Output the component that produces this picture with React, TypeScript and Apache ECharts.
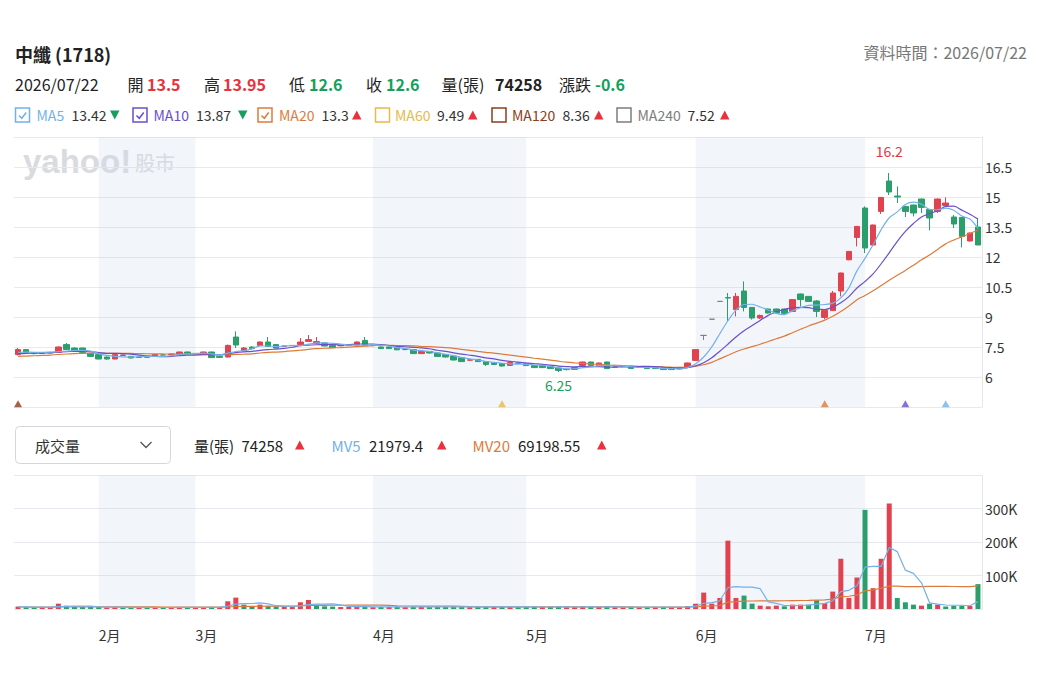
import React, { useEffect, useRef } from "react";
import * as echarts from "echarts";

// ---------- DATA ----------
const tradingDays: [string, number[]][] = [
  ["2026-01", [19, 20, 21, 22, 23, 26, 27, 28, 29, 30]],
  ["2026-02", [2, 3, 4, 5, 6, 9, 10, 11, 23, 24, 25, 26]],
  ["2026-03", [2, 3, 4, 5, 6, 9, 10, 11, 12, 13, 16, 17, 18, 19, 20, 23, 24, 25, 26, 27, 30, 31]],
  ["2026-04", [1, 7, 8, 9, 10, 13, 14, 15, 16, 17, 20, 21, 22, 23, 24, 27, 28, 29, 30]],
  ["2026-05", [1, 4, 5, 6, 7, 8, 11, 12, 13, 14, 15, 18, 19, 20, 21, 22, 25, 26, 27, 28, 29]],
  ["2026-06", [1, 2, 3, 4, 5, 8, 9, 10, 11, 12, 15, 16, 17, 18, 22, 23, 24, 25, 26, 29, 30]],
  ["2026-07", [1, 2, 3, 6, 7, 8, 9, 13, 14, 15, 16, 17, 20, 21, 22]],
];
const shadedMonths = ["2026-02", "2026-04", "2026-06"];

const opens = [
  7.12, 7.37, 7.2, 7.18, 7.2, 7.23, 7.62, 7.45, 7.45, 7.17,
  7.12, 7.0, 6.9, 7.08, 7.03, 6.98, 7.0, 7.03, 7.1, 7.13,
  7.12, 7.25, 7.18, 7.12, 7.25, 7.03, 7.0, 8.0, 7.3, 7.5,
  7.57, 7.75, 7.62, 7.53, 7.57, 7.62, 7.78, 7.68, 7.7, 7.58,
  7.56, 7.58, 7.6, 7.83, 7.58, 7.5, 7.5, 7.5, 7.38, 7.37,
  7.17, 7.28, 7.2, 7.12, 7.05, 6.97, 6.84, 6.88, 6.77, 6.7,
  6.67, 6.58, 6.7, 6.67, 6.58, 6.58, 6.53, 6.45, 6.38, 6.38,
  6.58, 6.75, 6.58, 6.75, 6.5, 6.55, 6.55, 6.48, 6.5, 6.5,
  6.45, 6.45, 6.4, 6.5, 6.83, 8.08, 8.89, 9.78, 9.97, 9.37,
  10.3, 9.48, 8.95, 9.4, 9.4, 9.4, 9.28, 10.15, 10.03, 9.8,
  8.98, 9.32, 10.3, 11.86, 12.98, 14.45, 12.6, 14.28, 15.8, 15.05,
  14.53, 14.6, 14.9, 14.37, 14.28, 14.58, 14.0, 13.98, 12.8, 13.5,
];
const closes = [
  7.37, 7.23, 7.17, 7.2, 7.23, 7.5, 7.37, 7.33, 7.23, 7.03,
  6.9, 6.9, 7.12, 7.1, 6.95, 7.0, 6.99, 7.12, 7.1, 7.15,
  7.25, 7.15, 7.17, 7.25, 6.97, 6.98, 7.58, 7.6, 7.45, 7.42,
  7.75, 7.53, 7.45, 7.55, 7.58, 7.75, 7.87, 7.77, 7.55, 7.47,
  7.58, 7.62, 7.75, 7.57, 7.57, 7.42, 7.42, 7.36, 7.37, 7.17,
  7.28, 7.2, 7.03, 7.0, 6.85, 6.77, 6.86, 6.77, 6.63, 6.63,
  6.55, 6.72, 6.69, 6.57, 6.47, 6.47, 6.42, 6.33, 6.37, 6.47,
  6.75, 6.58, 6.7, 6.42, 6.49, 6.54, 6.43, 6.5, 6.42, 6.42,
  6.37, 6.37, 6.48, 6.7, 7.37, 8.08, 8.89, 9.78, 9.95, 10.03,
  9.48, 8.95, 9.08, 9.2, 9.2, 9.18, 9.87, 9.87, 9.78, 9.28,
  9.33, 10.2, 11.2, 12.28, 13.53, 12.45, 13.6, 14.98, 15.25, 15.0,
  14.28, 14.2, 14.48, 13.95, 14.9, 14.7, 13.65, 13.03, 13.2, 12.6,
];
const lows = [
  7.08, 7.2, 7.13, 7.15, 7.17, 7.2, 7.35, 7.3, 7.2, 7.0,
  6.88, 6.87, 6.88, 7.05, 6.93, 6.96, 6.96, 7.01, 7.07, 7.12,
  7.1, 7.13, 7.14, 7.1, 6.95, 6.95, 6.98, 7.45, 7.25, 7.38,
  7.55, 7.5, 7.43, 7.5, 7.54, 7.6, 7.75, 7.65, 7.53, 7.45,
  7.53, 7.55, 7.58, 7.55, 7.54, 7.4, 7.4, 7.34, 7.34, 7.15,
  7.15, 7.18, 7.0, 6.98, 6.83, 6.75, 6.82, 6.75, 6.55, 6.6,
  6.53, 6.56, 6.66, 6.55, 6.45, 6.45, 6.4, 6.25, 6.33, 6.36,
  6.56, 6.56, 6.56, 6.4, 6.46, 6.51, 6.41, 6.46, 6.4, 6.4,
  6.35, 6.35, 6.38, 6.48, 6.8, 7.85, 8.89, 9.78, 8.8, 9.03,
  9.28, 8.87, 8.9, 9.18, 9.18, 9.16, 9.26, 9.53, 9.75, 9.0,
  8.9, 9.3, 10.03, 11.84, 12.53, 12.2, 12.58, 14.15, 15.1, 14.7,
  14.0, 14.03, 14.2, 13.33, 14.2, 14.55, 13.45, 12.48, 12.78, 12.6,
];
const highs = [
  7.45, 7.4, 7.22, 7.24, 7.26, 7.53, 7.7, 7.48, 7.47, 7.2,
  7.14, 7.02, 7.14, 7.13, 7.05, 7.02, 7.02, 7.14, 7.13, 7.17,
  7.27, 7.27, 7.2, 7.27, 7.27, 7.05, 7.62, 8.28, 7.5, 7.53,
  7.78, 8.0, 7.65, 7.58, 7.6, 7.95, 8.1, 8.0, 7.75, 7.6,
  7.6, 7.65, 7.78, 8.0, 7.6, 7.52, 7.52, 7.52, 7.4, 7.39,
  7.3, 7.3, 7.22, 7.14, 7.07, 6.99, 6.88, 6.9, 6.79, 6.72,
  6.69, 6.74, 6.72, 6.69, 6.6, 6.6, 6.55, 6.47, 6.42, 6.49,
  6.77, 6.77, 6.72, 6.77, 6.52, 6.57, 6.57, 6.52, 6.52, 6.52,
  6.47, 6.47, 6.5, 6.72, 7.37, 8.08, 8.89, 9.78, 10.2, 10.2,
  10.78, 9.5, 9.12, 9.42, 9.42, 9.42, 9.9, 10.17, 10.05, 9.85,
  9.35, 10.3, 11.22, 12.3, 13.55, 14.53, 13.62, 15.0, 16.2, 15.53,
  14.55, 14.62, 14.92, 14.4, 14.92, 14.98, 14.1, 14.0, 13.22, 13.95,
];
const volumes = [
  7200, 5500, 4800, 4600, 5000, 16000, 9500, 6500, 5800, 6200,
  5600, 4900, 5300, 4500, 4700, 4400, 4300, 4800, 4500, 4600,
  5200, 4900, 4600, 5400, 6200, 5100, 23000, 34000, 13000, 7000,
  13000, 8500, 7500, 6000, 5800, 20000, 27000, 13000, 8000, 7200,
  5800, 6200, 7000, 8200, 5600, 6100, 5900, 6500, 5700, 7200,
  6300, 5800, 6600, 6100, 7000, 6800, 5600, 6200, 6900, 5900,
  6400, 6600, 5700, 5900, 6100, 5800, 6200, 6700, 5500, 5600,
  6800, 6100, 5900, 6600, 5400, 5300, 5700, 5500, 5600, 5800,
  5900, 5700, 6000, 8500, 15800, 49000, 16000, 33000, 204000, 33000,
  40000, 16000, 10000, 8000, 10000, 8000, 13000, 13000, 13000, 26000,
  18000, 52000, 150000, 33000, 94000, 296000, 62000, 150000, 315000, 33000,
  20000, 13000, 10000, 16000, 13000, 7500, 9500, 9800, 8900, 74258,
];
// history before the visible window (needed for the moving averages at the left edge)
const priorCloses = [6.85, 6.88, 6.9, 6.86, 6.92, 6.88, 6.9, 6.93, 6.87, 6.91, 7.05, 7.1, 7.12, 7.08, 7.15, 7.18, 7.22, 7.2, 7.2];
const priorVolumes = [5600, 6100, 5200, 5900, 6400, 5500, 6000, 5800, 6300, 5700, 6200, 5400, 6000, 5900, 6100, 5600, 6300, 5800, 6000];
const limitLocked = [85, 86, 87];
const signalIdx = [0, 60, 100, 110, 115];

// ---------- STYLE ----------
const FONT = '"Noto Sans CJK TC", "Noto Sans", sans-serif';
const RED = "#e0434f";
const GREEN = "#2a9f6b";
const RED_T = "#e8333f";
const GREEN_T = "#14a05c";
const GRAY_C = "#808080";
const C_MA5 = "#74b1ea";
const C_MA10 = "#6a4fcc";
const C_MA20 = "#dd7b3c";
const C_MA60 = "#e8b94b";
const C_MA120 = "#8d3c1c";
const C_MA240 = "#7d7d7d";
const GRID_C = "#e6e9ed";
const signalColors = [C_MA120, C_MA60, C_MA20, C_MA10, C_MA5];

const dates: string[] = [];
tradingDays.forEach(([m, ds]) => ds.forEach((d) => dates.push(`${m}-${String(d).padStart(2, "0")}`)));

function movingAvg(prior: number[], vals: number[], n: number): number[] {
  const all = [...prior, ...vals];
  const p = prior.length;
  return vals.map((_, i) => {
    let s = 0;
    for (let k = i + p - n + 1; k <= i + p; k++) s += all[k];
    return +(s / n).toFixed(4);
  });
}

const monthOf = (d: string) => d.slice(0, 7);
const isMonthStart = (i: number) => i > 0 && monthOf(dates[i]) !== monthOf(dates[i - 1]);

function bandPairs() {
  return shadedMonths.map((m) => {
    const s = dates.findIndex((d) => monthOf(d) === m);
    let e = dates.findIndex((d, i) => i > s && monthOf(d) !== m);
    if (e < 0) e = dates.length - 1;
    return [{ xAxis: dates[s] }, { xAxis: dates[e] }];
  });
}

function buildGraphic(): any[] {
  const g: any[] = [];
  const txt = (x: number, y: number, text: string, fill: string, fontSize: number, fontWeight: any = "normal", align = "left") => ({
    type: "text",
    x,
    y,
    silent: true,
    style: { text, fill, fontSize, fontWeight, fontFamily: FONT, align, verticalAlign: "middle" },
  });
  const triUp = (x: number, yc: number, fill: string) => ({
    type: "polygon",
    silent: true,
    shape: { points: [[x, yc + 4.5], [x + 9.5, yc + 4.5], [x + 4.75, yc - 4.5]] },
    style: { fill },
  });
  const triDown = (x: number, yc: number, fill: string) => ({
    type: "polygon",
    silent: true,
    shape: { points: [[x, yc - 4.5], [x + 9.5, yc - 4.5], [x + 4.75, yc + 4.5]] },
    style: { fill },
  });

  // title rows
  g.push(txt(15, 54, "中纖 (1718)", "#222", 18, "bold"));
  g.push(txt(1027, 52, "資料時間：2026/07/22", "#777", 16, "normal", "right"));
  const y2 = 84;
  const f2 = 16;
  g.push(txt(15, y2, "2026/07/22", "#222", f2));
  g.push(txt(127.5, y2, "開", "#222", f2));
  g.push(txt(147, y2, "13.5", RED_T, f2, "bold"));
  g.push(txt(204, y2, "高", "#222", f2));
  g.push(txt(223, y2, "13.95", RED_T, f2, "bold"));
  g.push(txt(289, y2, "低", "#222", f2));
  g.push(txt(309, y2, "12.6", GREEN_T, f2, "bold"));
  g.push(txt(366, y2, "收", "#222", f2));
  g.push(txt(386, y2, "12.6", GREEN_T, f2, "bold"));
  g.push(txt(441.5, y2, "量(張)", "#222", f2));
  g.push(txt(495, y2, "74258", "#222", f2, "bold"));
  g.push(txt(559, y2, "漲跌", "#222", f2));
  g.push(txt(595, y2, "-0.6", GREEN_T, f2, "bold"));

  // MA legend row
  const y3 = 115;
  const items = [
    { box: 15, lab: 36.5, val: 71.5, arr: 110, name: "MA5", v: "13.42", c: C_MA5, on: true, up: false },
    { box: 132.5, lab: 153.5, val: 196, arr: 238, name: "MA10", v: "13.87", c: C_MA10, on: true, up: false },
    { box: 257.5, lab: 279, val: 321.5, arr: 352, name: "MA20", v: "13.3", c: C_MA20, on: true, up: true },
    { box: 375, lab: 395, val: 437, arr: 468, name: "MA60", v: "9.49", c: C_MA60, on: false, up: true },
    { box: 491.5, lab: 512, val: 562.5, arr: 594, name: "MA120", v: "8.36", c: C_MA120, on: false, up: true },
    { box: 616.5, lab: 637.5, val: 687.5, arr: 720, name: "MA240", v: "7.52", c: C_MA240, on: false, up: true },
  ];
  items.forEach((it) => {
    g.push({
      type: "rect",
      silent: true,
      shape: { x: it.box + 0.5, y: y3 - 7, width: 14, height: 14 },
      style: { fill: "#fff", stroke: it.c, lineWidth: 1.5 },
    });
    if (it.on) {
      g.push({
        type: "polyline",
        silent: true,
        shape: { points: [[it.box + 4, y3 + 0.5], [it.box + 6.8, y3 + 3.3], [it.box + 11.2, y3 - 2.5]] },
        style: { stroke: it.c, lineWidth: 1.5, fill: null },
      });
    }
    g.push(txt(it.lab, y3, it.name, it.c, 14));
    g.push(txt(it.val, y3, it.v, "#333", 14));
    g.push(it.up ? triUp(it.arr, y3, RED_T) : triDown(it.arr, y3, GREEN_T));
  });

  // watermark
  g.push({
    type: "text",
    x: 23,
    y: 161,
    silent: true,
    style: { text: "yahoo!", fill: "#d9dbdf", fontSize: 33, fontWeight: "bold", fontFamily: '"Liberation Sans", Arial, sans-serif', verticalAlign: "middle" },
  });
  g.push(txt(135, 162, "股市", "#d9dbdf", 20));

  // volume legend row
  const y4 = 445;
  g.push({
    type: "rect",
    silent: true,
    shape: { x: 15.5, y: 426.5, width: 155, height: 37, r: 4 },
    style: { fill: "#fff", stroke: "#d3d7dc", lineWidth: 1 },
  });
  g.push(txt(35, y4, "成交量", "#333", 15));
  g.push({
    type: "polyline",
    silent: true,
    shape: { points: [[140.5, 442], [146, 447.5], [151.5, 442]] },
    style: { stroke: "#555", lineWidth: 1.3, fill: null },
  });
  g.push(txt(194, y4, "量(張)", "#222", 15));
  g.push(txt(241.5, y4, "74258", "#222", 15));
  g.push(triUp(295, y4, RED_T));
  g.push(txt(331.5, y4, "MV5", C_MA5, 15));
  g.push(txt(369, y4, "21979.4", "#222", 15));
  g.push(triUp(437, y4, RED_T));
  g.push(txt(472.5, y4, "MV20", C_MA20, 15));
  g.push(txt(518, y4, "69198.55", "#222", 15));
  g.push(triUp(597, y4, RED_T));
  return g;
}

export default function App() {
  const ref = useRef<HTMLDivElement>(null);
  useEffect(() => {
    if (!ref.current) return;
    const chart = echarts.init(ref.current, null, { renderer: "svg" });

    const ma5 = movingAvg(priorCloses, closes, 5);
    const ma10 = movingAvg(priorCloses, closes, 10);
    const ma20 = movingAvg(priorCloses, closes, 20);
    const mv5 = movingAvg(priorVolumes, volumes, 5);
    const mv20 = movingAvg(priorVolumes, volumes, 20);

    const candleData = dates.map((_, i) => {
      const v = [opens[i], closes[i], lows[i], highs[i]];
      if (limitLocked.includes(i)) {
        return { value: v, itemStyle: { color: GRAY_C, color0: GRAY_C, borderColor: GRAY_C, borderColor0: GRAY_C } };
      }
      return v;
    });
    const prevClose = (i: number) => (i > 0 ? closes[i - 1] : priorCloses[priorCloses.length - 1]);
    const volData = volumes.map((v, i) => ({
      value: v,
      itemStyle: { color: closes[i] >= prevClose(i) ? RED : GREEN },
    }));

    let hiIdx = 0;
    let loIdx = 0;
    highs.forEach((h, i) => { if (h > highs[hiIdx]) hiIdx = i; });
    lows.forEach((l, i) => { if (l < lows[loIdx]) loIdx = i; });

    const bands = bandPairs();
    const bandStyle = { color: "rgba(205, 218, 236, 0.26)" };

    const maLine = (name: string, data: number[], color: string) => ({
      name,
      type: "line",
      xAxisIndex: 0,
      yAxisIndex: 0,
      data,
      showSymbol: false,
      smooth: 0.3,
      lineStyle: { color, width: 1.2 },
      itemStyle: { color },
      silent: true,
      z: 3,
    });

    const option: any = {
      animation: false,
      backgroundColor: "#ffffff",
      textStyle: { fontFamily: FONT },
      grid: [
        { left: 14, right: 55, top: 137, height: 270 },
        { left: 14, right: 55, top: 475, height: 134 },
      ],
      xAxis: [
        {
          type: "category",
          gridIndex: 0,
          data: dates,
          axisLine: { show: false },
          axisTick: { show: false },
          axisLabel: { show: false },
          splitLine: { show: false },
        },
        {
          type: "category",
          gridIndex: 1,
          data: dates,
          axisLine: { show: true, lineStyle: { color: "#e3e6ea" } },
          axisTick: { show: false },
          splitLine: { show: false },
          axisLabel: {
            interval: (i: number) => isMonthStart(i),
            formatter: (v: string) => `${parseInt(v.slice(5, 7), 10)}月`,
            align: "left",
            margin: 19,
            color: "#333",
            fontSize: 14,
            fontFamily: FONT,
          },
        },
      ],
      yAxis: [
        {
          type: "value",
          gridIndex: 0,
          position: "right",
          min: 4.5,
          max: 18,
          interval: 1.5,
          axisLine: { show: true, lineStyle: { color: "#e3e6ea" } },
          axisTick: { show: false },
          axisLabel: { showMinLabel: false, showMaxLabel: false, margin: 3, color: "#333", fontSize: 14, fontFamily: FONT },
          splitLine: { show: true, lineStyle: { color: GRID_C, width: 1 } },
        },
        {
          type: "value",
          gridIndex: 1,
          position: "right",
          min: 0,
          max: 400000,
          interval: 100000,
          axisLine: { show: true, lineStyle: { color: "#e3e6ea" } },
          axisTick: { show: false },
          axisLabel: {
            showMinLabel: false,
            showMaxLabel: false,
            margin: 3,
            color: "#333",
            fontSize: 14,
            fontFamily: FONT,
            formatter: (v: number) => `${v / 1000}K`,
          },
          splitLine: { show: true, lineStyle: { color: GRID_C, width: 1 } },
        },
      ],
      series: [
        {
          name: "K",
          type: "candlestick",
          xAxisIndex: 0,
          yAxisIndex: 0,
          data: candleData,
          barWidth: 6,
          itemStyle: { color: RED, color0: GREEN, borderColor: RED, borderColor0: GREEN, borderWidth: 1 },
          markArea: { silent: true, itemStyle: bandStyle, data: bands },
          markPoint: {
            symbol: "circle",
            symbolSize: 1,
            itemStyle: { color: "rgba(0,0,0,0)" },
            silent: true,
            data: [
              {
                coord: [hiIdx, highs[hiIdx]],
                label: { show: true, position: "top", distance: 15, formatter: String(highs[hiIdx]), color: RED_T, fontSize: 14, fontFamily: FONT },
              },
              {
                coord: [loIdx, lows[loIdx]],
                label: { show: true, position: "bottom", distance: 5, formatter: String(lows[loIdx]), color: GREEN_T, fontSize: 14, fontFamily: FONT },
              },
            ],
          },
        },
        maLine("MA20", ma20, C_MA20),
        maLine("MA10", ma10, C_MA10),
        maLine("MA5", ma5, C_MA5),
        {
          name: "signals",
          type: "scatter",
          xAxisIndex: 0,
          yAxisIndex: 0,
          symbol: "triangle",
          symbolSize: [8, 7],
          silent: true,
          data: signalIdx.map((i, k) => ({ value: [i, 4.66], itemStyle: { color: signalColors[k] } })),
          z: 4,
        },
        {
          name: "Vol",
          type: "bar",
          xAxisIndex: 1,
          yAxisIndex: 1,
          data: volData,
          barWidth: 5,
          silent: true,
        },
        {
          name: "MV20",
          type: "line",
          xAxisIndex: 1,
          yAxisIndex: 1,
          data: mv20,
          showSymbol: false,
          lineStyle: { color: C_MA20, width: 1.2 },
          silent: true,
          z: 3,
          markArea: { silent: true, itemStyle: bandStyle, data: bands },
        },
        {
          name: "MV5",
          type: "line",
          xAxisIndex: 1,
          yAxisIndex: 1,
          data: mv5,
          showSymbol: false,
          lineStyle: { color: C_MA5, width: 1.2 },
          silent: true,
          z: 3,
        },
      ],
      graphic: buildGraphic(),
    };
    chart.setOption(option);
    return () => chart.dispose();
  }, []);

  return (
    <div
      ref={ref}
      style={{ position: "absolute", left: 0, top: 0, width: 1037, height: 674, background: "#fff" }}
    />
  );
}
